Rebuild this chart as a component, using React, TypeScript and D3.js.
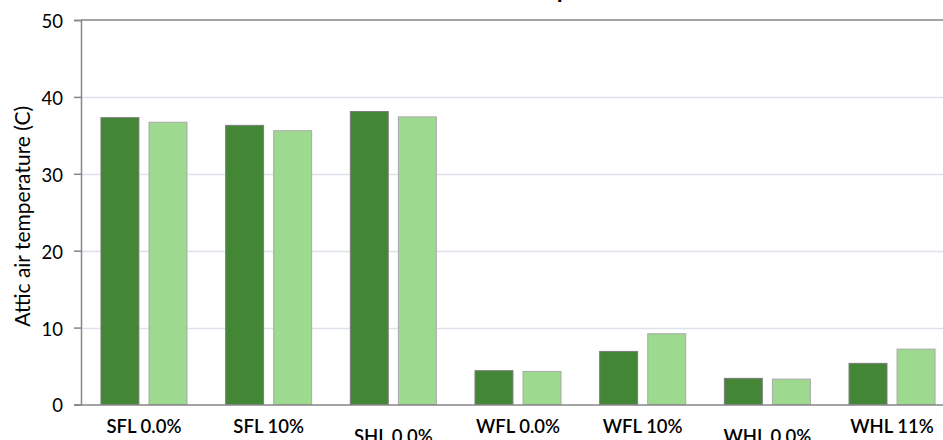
import { useEffect, useRef } from "react";
import * as d3 from "d3";

const categories = ["SFL 0.0%", "SFL 10%", "SHL 0.0%", "WFL 0.0%", "WFL 10%", "WHL 0.0%", "WHL 11%"];
const seriesKeys = ["a", "b"];
const seriesA = [37.3, 36.3, 38.1, 4.4, 6.9, 3.4, 5.35];
const seriesB = [36.7, 35.6, 37.4, 4.3, 9.2, 3.3, 7.2];
const yTicks = [0, 10, 20, 30, 40, 50];
// labels Excel pushed down a row
const loweredLabels = ["SHL 0.0%", "WHL 0.0%"];

const W = 943;
const H = 440;
const FONT = "Lato, Calibri, 'Open Sans', sans-serif";

export default function App() {
  const svgRef = useRef<SVGSVGElement>(null);

  useEffect(() => {
    if (!svgRef.current) return;
    const svg = d3.select(svgRef.current);
    svg.selectAll("*").remove();

    const left = 81;
    const right = 955; // plot area runs past the right edge of the picture
    const top = 20;
    const bottom = 404.5;

    const x0 = d3
      .scaleBand<string>()
      .domain(categories)
      .range([left, right])
      .paddingInner(0.31)
      .paddingOuter(0.16);
    const x1 = d3
      .scaleBand<string>()
      .domain(seriesKeys)
      .range([0, x0.bandwidth()])
      .paddingInner(0.21);
    const y = d3.scaleLinear().domain([0, 50]).range([bottom, top]);

    // grid lines
    svg
      .append("g")
      .selectAll("line")
      .data(yTicks.filter((t) => t > 0 && t < 50))
      .join("line")
      .attr("x1", left)
      .attr("x2", right)
      .attr("y1", (d) => Math.round(y(d)) + 0.5)
      .attr("y2", (d) => Math.round(y(d)) + 0.5)
      .attr("stroke", "#dde2ea")
      .attr("stroke-width", 1.5);

    // plot area top border
    svg
      .append("line")
      .attr("x1", left)
      .attr("x2", right)
      .attr("y1", y(50))
      .attr("y2", y(50))
      .attr("stroke", "#868686")
      .attr("stroke-width", 1.5);

    // bars
    const rows = categories.map((c, i) => ({ c, a: seriesA[i], b: seriesB[i] }));
    const groups = svg
      .append("g")
      .selectAll("g")
      .data(rows)
      .join("g")
      .attr("transform", (d) => `translate(${x0(d.c)},0)`);

    groups
      .selectAll("rect")
      .data((d) => [
        { key: "a", v: d.a },
        { key: "b", v: d.b },
      ])
      .join("rect")
      .attr("x", (d) => x1(d.key)!)
      .attr("y", (d) => y(d.v))
      .attr("width", x1.bandwidth())
      .attr("height", (d) => y(0) - y(d.v))
      .attr("fill", (d) => (d.key === "a" ? "#438736" : "#9dd98e"))
      .attr("stroke", (d) => (d.key === "a" ? "#7d7d7d" : "#a9a9a9"))
      .attr("stroke-width", 1);

    // y axis
    const yAxis = svg
      .append("g")
      .attr("transform", `translate(${left},0)`)
      .call(d3.axisLeft(y).tickValues(yTicks).tickSize(7).tickPadding(11).tickFormat(d3.format("d")));
    yAxis.select(".domain").attr("stroke", "#868686").attr("stroke-width", 1.5);
    yAxis.selectAll(".tick line").attr("stroke", "#868686").attr("stroke-width", 1.5);
    yAxis
      .selectAll(".tick text")
      .attr("fill", "#000")
      .attr("font-family", FONT)
      .attr("font-size", 18.5)
      .attr("dy", "0.4em");

    // x axis
    const xAxis = svg
      .append("g")
      .attr("transform", `translate(0,${bottom})`)
      .call(d3.axisBottom(x0).tickSize(0).tickSizeOuter(0).tickPadding(0));
    xAxis.select(".domain").attr("stroke", "#868686").attr("stroke-width", 1.5);
    xAxis
      .selectAll<SVGTextElement, string>(".tick text")
      .attr("fill", "#000")
      .attr("font-family", FONT)
      .attr("font-size", 18.5)
      .attr("font-weight", 600)
      .attr("dy", (d) => (loweredLabels.includes(d) ? 38.5 : 28.5));

    // y title
    svg
      .append("text")
      .attr("transform", `translate(30,${(top + bottom) / 2 + 4}) rotate(-90)`)
      .attr("text-anchor", "middle")
      .attr("font-family", FONT)
      .attr("font-size", 21)
      .attr("fill", "#000")
      .text("Attic air temperature (C)");

    // chart title, mostly above the visible area
    svg
      .append("text")
      .attr("x", 537)
      .attr("y", -2)
      .attr("text-anchor", "middle")
      .attr("font-family", FONT)
      .attr("font-weight", 700)
      .attr("font-size", 24)
      .attr("fill", "#000")
      .text("Attic air temperature");
  }, []);

  return (
    <svg
      ref={svgRef}
      width={W}
      height={H}
      style={{ position: "absolute", left: 0, top: 0, background: "#fff" }}
    />
  );
}
